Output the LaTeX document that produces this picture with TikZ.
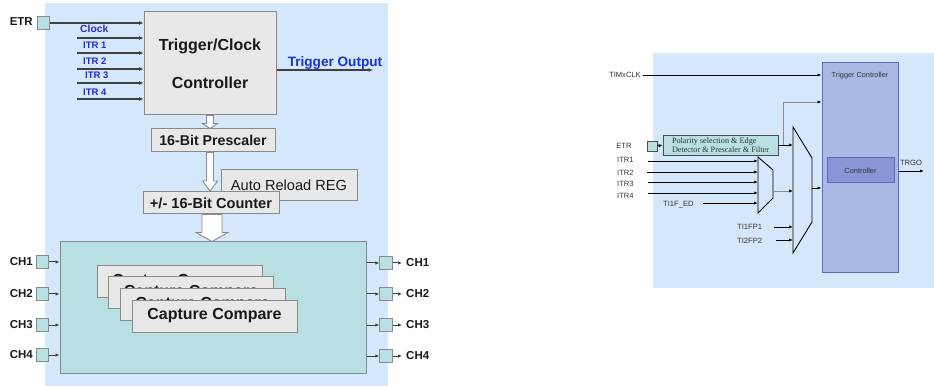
\documentclass[tikz,border=0pt]{standalone}
\usepackage{fontspec}
\setmainfont{Liberation Sans}
\newfontfamily\serifR{Liberation Serif}
\usetikzlibrary{arrows.meta,calc}
\definecolor{bgblue}{HTML}{D5E7FA}
\definecolor{tealb}{HTML}{B8E0E2}
\definecolor{boxgray}{HTML}{E8E8E8}
\definecolor{bordgray}{HTML}{8A8A8A}
\definecolor{lav}{HTML}{AAB8E4}
\definecolor{lavbord}{HTML}{5B68C2}
\definecolor{ctlfill}{HTML}{8A95D6}
\definecolor{lblue}{HTML}{2A2AD0}
\definecolor{tblue}{HTML}{1A33CC}
\definecolor{txtgray}{HTML}{333333}
\newcommand\fs[1]{\fontsize{#1}{#1}\selectfont}
\newcommand\hollowarr[5]{%
  \draw[hollow] let \p1=(#1), \p2=(#2) in
    (\x1-#3pt,\y1) -- (\x1-#3pt,\y2+#5pt) -- (\x1-#4pt,\y2+#5pt) -- (\x1,\y2)
    -- (\x1+#4pt,\y2+#5pt) -- (\x1+#3pt,\y2+#5pt) -- (\x1+#3pt,\y1) -- cycle;}
\tikzset{
  bgpanel/.style={fill=bgblue, draw=none, inner sep=0, anchor=north west},
  graybox/.style={fill=boxgray, draw=bordgray, line width=1pt, inner sep=0, text=black!90},
  card/.style={graybox, minimum width=165pt, minimum height=32pt, font=\fs{16}\bfseries},
  port/.style={fill=tealb, draw=bordgray, line width=0.8pt, minimum size=12.5pt, inner sep=0},
  portR/.style={fill=tealb, draw=black!70, line width=0.6pt, minimum size=10pt, inner sep=0},
  larrow/.style={draw=black!75, line width=1.2pt, -{Latex[length=4.5pt,width=4pt]}},
  sharrow/.style={draw=black!75, line width=1pt, -{Latex[length=4pt,width=3.5pt]}},
  rarrow/.style={draw=black, line width=0.9pt, -{Latex[length=4pt,width=3.2pt]}},
  garrow/.style={draw=black!45, line width=0.9pt, -{Latex[length=4pt,width=3.2pt,color=black]}},
  hollow/.style={fill=white, draw=bordgray, line width=0.9pt, line join=miter},
  inlbl/.style={text=lblue, font=\fs{9.5}\bfseries, anchor=west, inner sep=0},
  chlbl/.style={font=\fs{11.5}\bfseries, inner sep=0, text=black!90},
  rlbl/.style={font=\fs{7.6}, text=txtgray, inner sep=0, anchor=west},
  mux/.style={draw=black, line width=0.9pt, fill=bgblue}
}
\begin{document}
\begin{tikzpicture}[x=1pt,y=-1pt]
\useasboundingbox (0,0) rectangle (934,387);
% ---------------- left panel ----------------
\node[bgpanel, minimum width=343pt, minimum height=383pt] (bgL) at (45,3) {};
\node[graybox, minimum width=132pt, minimum height=103pt, align=center, font=\fs{16}\bfseries] (ctrl) at (210,63.5)
  {Trigger/Clock\\[22pt]Controller};
\node[graybox, minimum width=124pt, minimum height=23pt, font=\fs{14.2}\bfseries] (presc) at (213,140.5) {16-Bit Prescaler};
\hollowarr{ctrl.south}{presc.north -| ctrl.south}{3.5}{7.5}{5}
\hollowarr{presc.south -| ctrl.south}{211,191}{3.5}{7.5}{10}
\node[graybox, minimum width=136pt, minimum height=31pt, font=\fs{14.6}] (arr) at (289,185.5) {Auto Reload REG};
\node[graybox, minimum width=136pt, minimum height=22pt, font=\fs{14.6}\bfseries] (counter) at (211,203) {+/- 16-Bit Counter};
\node[fill=tealb, draw=bordgray, line width=1pt, minimum width=306pt, minimum height=131pt, inner sep=0] (big) at (213,307.5) {};
\hollowarr{counter.south -| 212,0}{big.north -| 212,0}{10}{16}{9}
\node[card] (c1) at (179.5,281.5) {Capture Compare};
\node[card] (c2) at (191,292.5) {Capture Compare};
\node[card] (c3) at (202.5,304.5) {Capture Compare};
\node[card] (c4) at (214.5,316) {Capture Compare};
% ETR and inputs
\node[chlbl, anchor=east] (etrlbl) at (33,22) {ETR};
\node[port] (etrL) at (43.5,23) {};
\draw[larrow] (etrL.east) -- (etrL.east -| ctrl.west);
\foreach \n/\y in {clk/38, i1/53, i2/69, i3/83, i4/99} {
  \coordinate (\n) at (77,\y);
  \draw[larrow] (\n) -- (\n -| ctrl.west);
}
\node[inlbl, font=\fs{10.3}\bfseries] (lclk) at (80,29) {Clock};
\node[inlbl] (li1) at (83,45) {ITR 1};
\node[inlbl] (li2) at (83,61) {ITR 2};
\node[inlbl] (li3) at (85,75.5) {ITR 3};
\node[inlbl] (li4) at (83,92) {ITR 4};
\coordinate (tout) at (373,70);
\draw[larrow] (ctrl.east |- tout) -- (tout);
\node[text=tblue, font=\fs{13.6}\bfseries, inner sep=0] (toutlbl) at (335,63) {Trigger Output};
% channels
\foreach \k/\yl/\yr in {1/262/263, 2/294/294, 3/325/325, 4/355/356} {
  \node[port] (chL\k) at (42.5,\yl) {};
  \node[chlbl, anchor=east] (chLl\k) at (33,\yl) {CH\k};
  \draw[sharrow] (chL\k.east) -- (chL\k.east -| big.west);
  \node[port] (chR\k) at (386,\yr) {};
  \draw[sharrow] (chR\k.west -| big.east) -- (chR\k.west);
  \coordinate (chRe\k) at (402,\yr);
  \draw[sharrow] (chR\k.east) -- (chRe\k);
  \node[chlbl, anchor=west] (chRl\k) at (406,\yr) {CH\k};
}
% ---------------- right panel ----------------
\node[bgpanel, minimum width=281pt, minimum height=235pt] (bgR) at (653,53) {};
\node[fill=lav, draw=lavbord, line width=1pt, minimum width=76pt, minimum height=210pt, inner sep=0] (tc) at (860,168) {};
\node[font=\fs{7.3}, text=txtgray, inner sep=0] (tclbl) at (860,76) {Trigger Controller};
\node[fill=ctlfill, draw=lavbord, line width=1pt, minimum width=67pt, minimum height=25pt, inner sep=0, font=\fs{7.4}, text=txtgray] (ctl) at (860.5,170.5) {Controller};
\coordinate (trgo) at (924,171);
\draw[rarrow] (tc.east |- trgo) -- (trgo);
\node[font=\fs{7.6}, text=txtgray, inner sep=0] (trgolbl) at (911,163) {TRGO};
% TIMxCLK
\node[rlbl, anchor=east] (timlbl) at (641,75) {TIMxCLK};
\coordinate (clkR) at (643,75);
\draw[rarrow] (clkR) -- (clkR -| tc.west);
% ETR and filter
\node[rlbl, anchor=center] (etrRl) at (624,146) {ETR};
\node[portR] (etrR) at (652,146) {};
\node[fill=tealb, draw=black!70, line width=0.7pt, minimum width=115pt, minimum height=20pt, inner sep=0, align=left, font=\serifR\fs{8.2}, text=txtgray] (filt) at (720.5,145)
  {Polarity selection \& Edge\\[1pt]Detector \& Prescaler \& Filter};
\draw[rarrow] (etrR.east) -- (filt.west);
% muxes
\draw[mux] (758,157) coordinate (m1nw) -- (773,170) -- (773,198) -- (758,213) -- cycle;
\draw[mux] (793,127) coordinate (m2nw) -- (812,158) coordinate (m2ne) -- (812,222) -- (793,253) -- cycle;
\coordinate (br) at (783,145);
\coordinate (brt) at (783,102);
\draw[rarrow] (filt.east) -- (filt.east -| m2nw);
\draw[garrow] (br) -- (brt) -- (brt -| tc.west);
\foreach \n/\x/\y/\t in {r1/648/161/ITR1, r2/647/172/ITR2, r3/648/182/ITR3, r4/648/193/ITR4} {
  \coordinate (\n) at (\x,\y);
  \draw[rarrow] (\n) -- (\n -| m1nw);
}
\node[rlbl] (lr1) at (617,160) {ITR1};
\node[rlbl] (lr2) at (617,173) {ITR2};
\node[rlbl] (lr3) at (617,183.5) {ITR3};
\node[rlbl] (lr4) at (617,196) {ITR4};
\coordinate (ted) at (703,203);
\draw[rarrow] (ted) -- (ted -| m1nw);
\node[rlbl] (lted) at (663,205) {TI1F\_ED};
\coordinate (m1o) at (773,191);
\draw[garrow] (m1o) -- (m1o -| m2nw);
\coordinate (tp1) at (774,227);
\coordinate (tp2) at (776,240);
\draw[rarrow] (tp1) -- (tp1 -| m2nw);
\draw[rarrow] (tp2) -- (tp2 -| m2nw);
\node[rlbl] (ltp1) at (737,227) {TI1FP1};
\node[rlbl] (ltp2) at (737,241) {TI2FP2};
\coordinate (m2o) at (812,188);
\draw[rarrow] (m2o) -- (m2o -| tc.west);
\end{tikzpicture}
\end{document}
